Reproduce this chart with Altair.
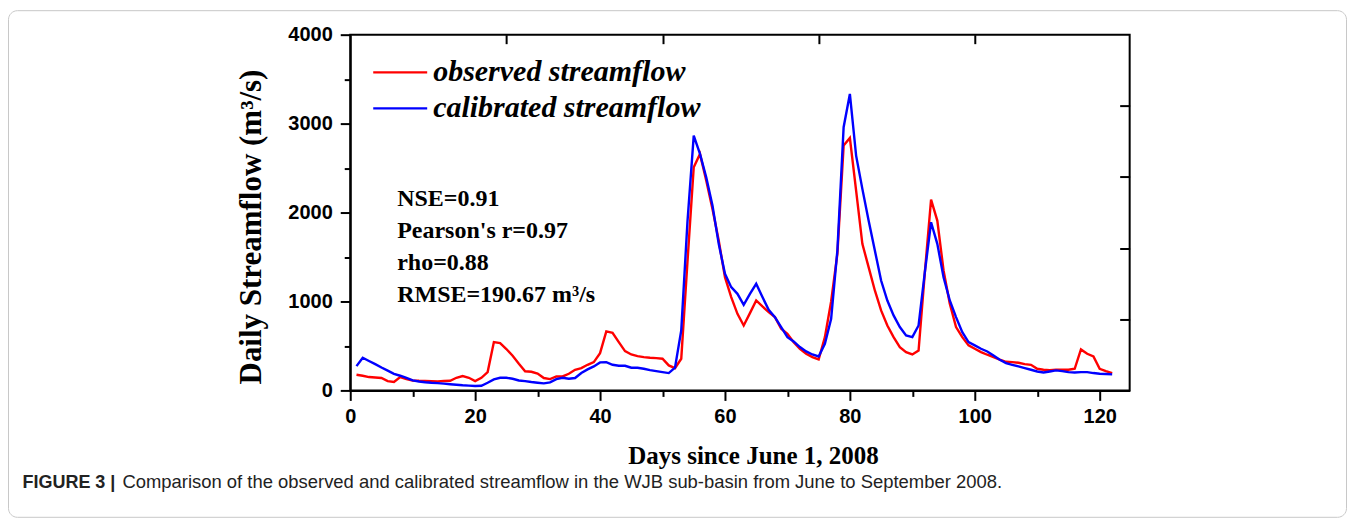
import altair as alt
import pandas as pd

# ---------------- data ----------------
days = list(range(1, 123))
observed = [
    176, 165, 150, 145, 139, 105, 94, 150, 127, 112,
    108, 106, 104, 101, 105, 108, 142, 161, 142, 105,
    142, 206, 543, 532, 465, 390, 300, 215, 210, 190,
    139, 127, 157, 157, 187, 232, 251, 288, 318, 419,
    663, 648, 543, 442, 404, 386, 374, 367, 363, 356,
    281, 250, 356, 1450, 2509, 2659, 2360, 2041, 1685, 1273,
    1049, 861, 730, 869, 1011, 944, 880, 824, 693, 637,
    543, 468, 412, 374, 348, 599, 1000, 1536, 2753, 2839,
    2247, 1648, 1386, 1124, 899, 730, 599, 487, 431, 404,
    449, 1322, 2146, 1910, 1348, 974, 712, 599, 506, 468,
    431, 401, 374, 345, 322, 318, 311, 296, 288, 243,
    232, 228, 232, 232, 232, 243, 461, 412, 382, 243,
    217, 195,
]
calibrated = [
    273, 367, 331, 296, 258, 223, 187, 165, 140, 112,
    100, 92, 86, 82, 76, 70, 64, 58, 54, 49,
    52, 86, 124, 142, 142, 131, 112, 105, 94, 86,
    79, 90, 127, 142, 131, 139, 195, 236, 270, 315,
    318, 288, 277, 277, 255, 255, 243, 228, 217, 206,
    195, 255, 674, 1900, 2865, 2659, 2397, 2079, 1648, 1311,
    1161, 1086, 963, 1086, 1199, 1049, 906, 824, 712, 599,
    551, 487, 438, 404, 382, 524, 805, 1573, 2959, 3333,
    2640, 2266, 1910, 1573, 1236, 1011, 843, 712, 618, 599,
    730, 1326, 1891, 1648, 1273, 1011, 824, 655, 543, 506,
    468, 438, 393, 345, 307, 288, 270, 251, 232, 213,
    202, 213, 225, 217, 206, 202, 206, 206, 195, 187,
    184, 180,
]
series_names = ["observed streamflow", "calibrated streamflow"]
series_colors = ["#ff0000", "#0000ff"]
x_ticks = list(range(0, 121, 10))
y_ticks = list(range(0, 4001, 500))
top_ticks = [25, 50, 75, 100]
right_ticks = [800, 1600, 2400, 3200]
stats_lines = ["NSE=0.91", "Pearson's r=0.97", "rho=0.88", "RMSE=190.67 m\u00b3/s"]
x_title = "Days since June 1, 2008"
y_title = "Daily Streamflow (m\u00b3/s)"
caption_bold = "FIGURE 3 |"
caption_text = ("Comparison of the observed and calibrated streamflow in the WJB "
                "sub-basin from June to September 2008.")

# ---------------- layout ----------------
W, H = 780, 356
SERIF = "Liberation Serif"
SANS = "Liberation Sans"

df = pd.DataFrame({
    "day": days * 2,
    "flow": observed + calibrated,
    "series": [series_names[0]] * len(days) + [series_names[1]] * len(days),
})

xscale = alt.Scale(domain=[0, 124.8], nice=False, zero=False)
yscale = alt.Scale(domain=[0, 4000], nice=False)
cscale = alt.Scale(domain=series_names, range=series_colors)

x_axis = alt.Axis(
    orient="bottom", values=x_ticks,
    labelExpr="datum.value % 20 === 0 ? datum.label : ''",
    title=x_title, titleFont=SERIF, titleFontSize=25, titleFontWeight="bold",
    titleColor="black", titlePadding=16.7, titleX=403,
    labelFont=SANS, labelFontSize=20, labelFontWeight="bold", labelColor="black",
    labelPadding=6, labelOverlap=False, labelFlush=False,
    tickSize={"condition": {"test": "datum.value % 20 !== 0", "value": 6}, "value": 10},
    tickWidth=2, tickColor="black", domainColor="black", domainWidth=2, grid=False,
)
y_axis = alt.Axis(
    orient="left", values=y_ticks, format="d",
    labelExpr="datum.value % 1000 === 0 ? datum.label : ''",
    title=y_title, titleFont=SERIF, titleFontSize=31, titleFontWeight="bold",
    titleColor="black", titlePadding=20, titleY=192,
    labelFont=SANS, labelFontSize=20, labelFontWeight="bold", labelColor="black",
    labelPadding=8, labelOverlap=False, labelFlush=False,
    tickSize={"condition": {"test": "datum.value % 1000 !== 0", "value": 6}, "value": 10},
    tickWidth=2, tickColor="black", domainColor="black", domainWidth=2, grid=False,
)

legend = alt.Legend(
    title=None, orient="none", legendX=21.5, legendY=22.7, padding=0,
    symbolType="stroke", symbolSize=2916, symbolStrokeWidth=2.3,
    clipHeight=30, rowPadding=6, labelOffset=4.5,
    labelFont=SERIF, labelFontSize=30, labelFontWeight="bold",
    labelFontStyle="italic", labelColor="black", labelLimit=600,
)

base = alt.Chart(df)

red = base.transform_filter(alt.datum.series == series_names[0]).mark_line(
    strokeWidth=2.4
).encode(
    x=alt.X("day:Q", scale=xscale, axis=x_axis),
    y=alt.Y("flow:Q", scale=yscale, axis=y_axis),
    color=alt.Color("series:N", scale=cscale, legend=legend),
)

# calibrated line; its mirrored (inward) ticks sit on the top and right edges
blue = base.transform_filter(alt.datum.series == series_names[1]).mark_line(
    strokeWidth=2.4
).encode(
    x=alt.X("day:Q", scale=xscale, axis=alt.Axis(
        orient="bottom", offset=-H, values=top_ticks, labels=False, domain=False,
        tickSize=9, tickWidth=2, tickColor="black", grid=False, title=None)),
    y=alt.Y("flow:Q", scale=yscale, axis=alt.Axis(
        orient="left", offset=-W, values=right_ticks, labels=False, domain=False,
        tickSize=10, tickWidth=2, tickColor="black", grid=False, title=None)),
    color=alt.Color("series:N", scale=cscale, legend=legend),
)

one = pd.DataFrame({"k": [0]})

stats = alt.Chart(pd.DataFrame({"t": ["\n".join(stats_lines)]})).mark_text(
    align="left", baseline="alphabetic", lineBreak="\n", lineHeight=32.2,
    font=SERIF, fontSize=24, fontWeight="bold", color="black",
).encode(text="t:N", x=alt.value(47), y=alt.value(171))

border = alt.Chart(one).mark_rect(
    filled=False, stroke="#c8c8c8", strokeWidth=1, cornerRadius=9,
).encode(x=alt.value(-342), x2=alt.value(997), y=alt.value(-24), y2=alt.value(483))

cap1 = alt.Chart(pd.DataFrame({"t": [caption_bold]})).mark_text(
    align="left", baseline="alphabetic", font=SANS, fontSize=18,
    fontWeight="bold", color="#222222",
).encode(text="t:N", x=alt.value(-328), y=alt.value(453.5))

cap2 = alt.Chart(pd.DataFrame({"t": [caption_text]})).mark_text(
    align="left", baseline="alphabetic", font=SANS, fontSize=18.45,
    color="#222222",
).encode(text="t:N", x=alt.value(-228), y=alt.value(453.5))

chart = alt.layer(red, blue, stats, border, cap1, cap2).resolve_axis(
    x="independent", y="independent"
).properties(
    width=W, height=H, background="white",
    padding={"left": 7.5, "top": 9.5, "right": 7.5, "bottom": 7.5},
).configure_view(stroke="black", strokeWidth=2)

chart.save("out.html", embed_options={"renderer": "svg", "actions": False})
